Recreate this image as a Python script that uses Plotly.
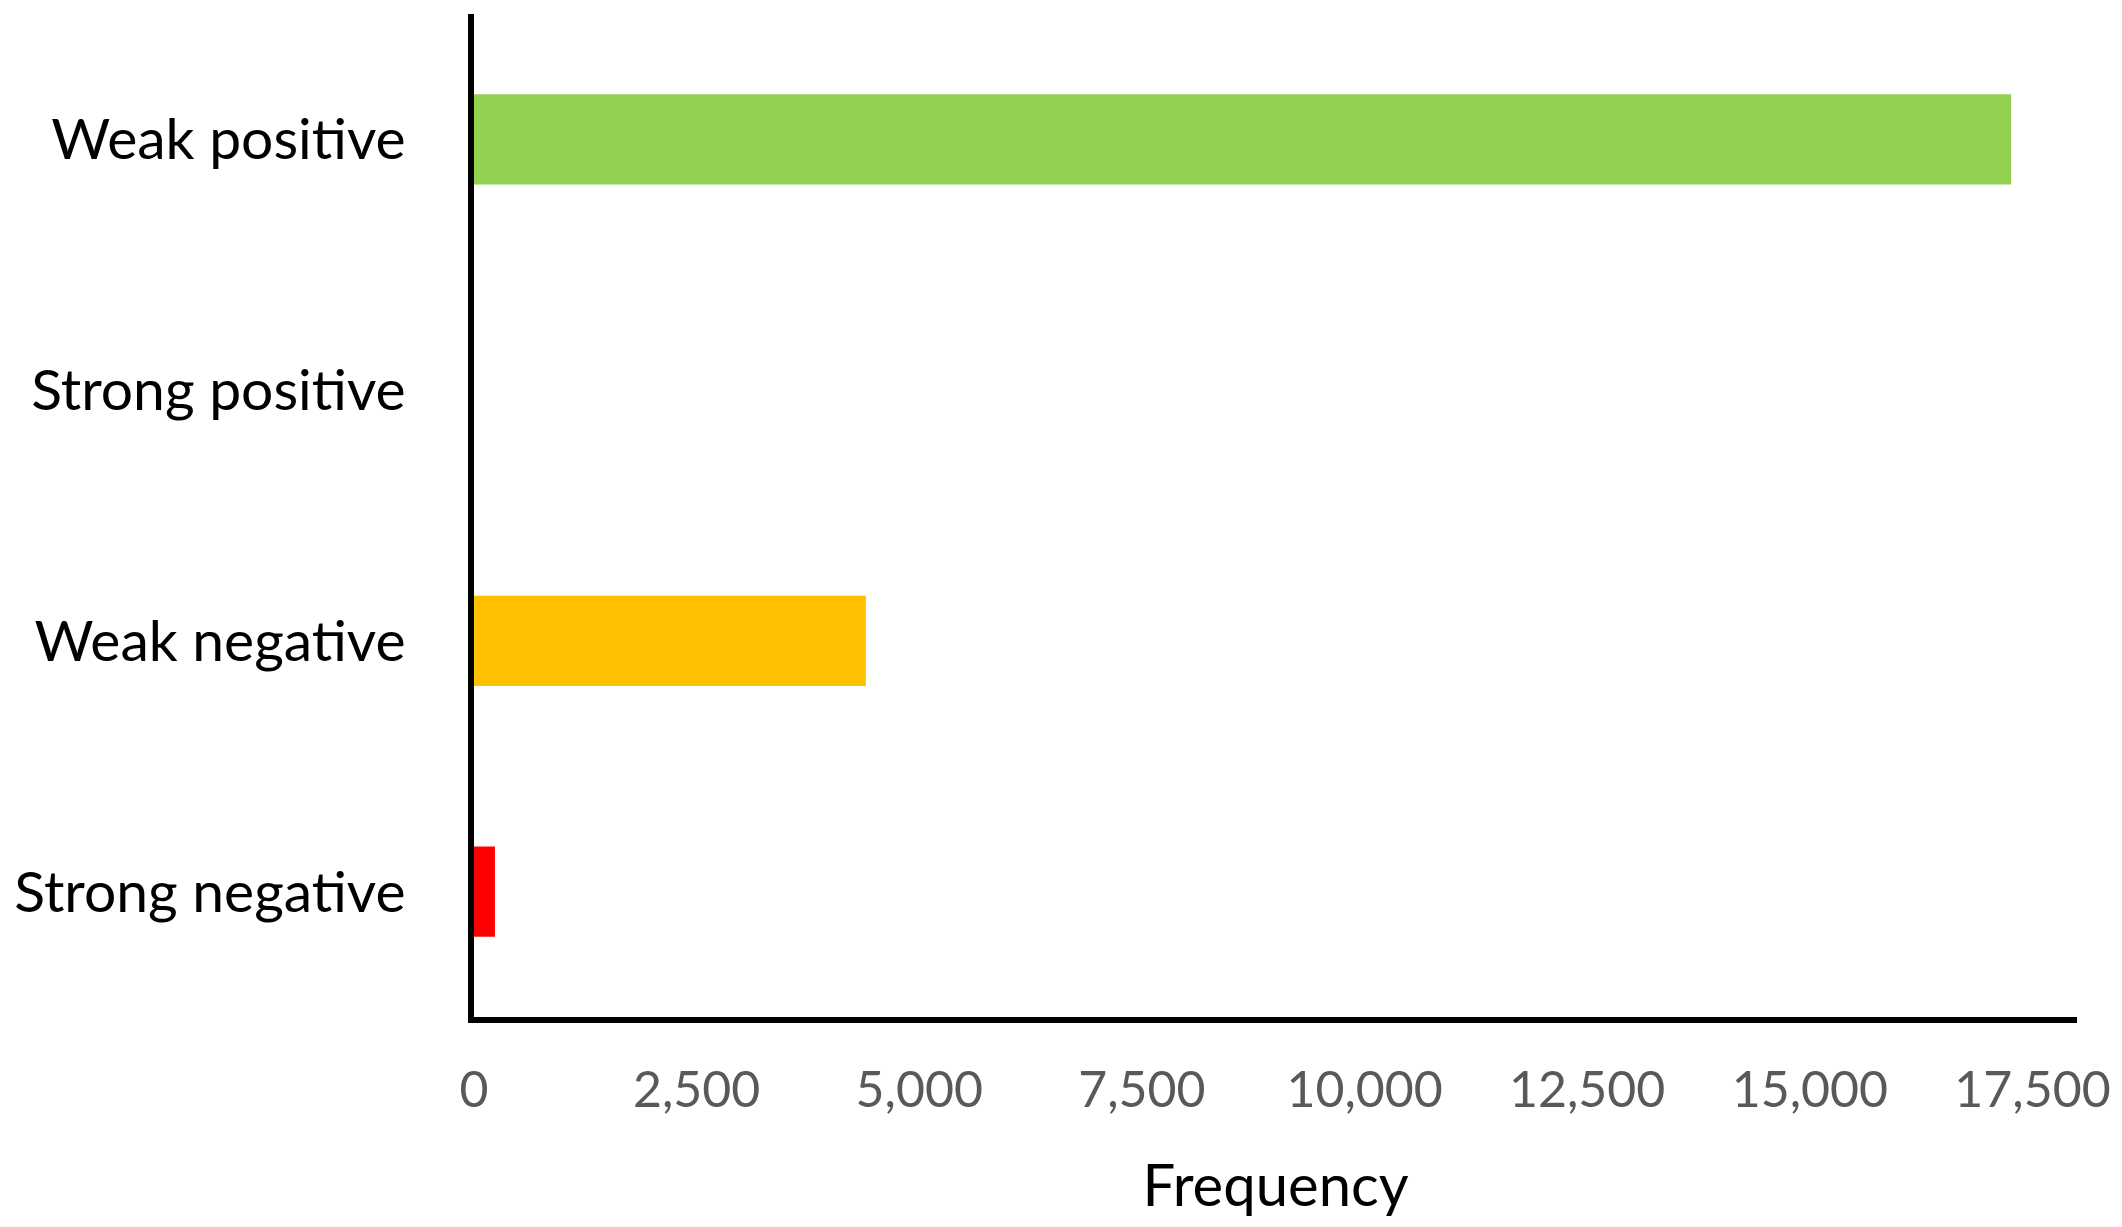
import plotly.graph_objects as go


# ==========================
# DATA
# ==========================

categories = ["Strong negative", "Weak negative", "Strong positive", "Weak positive"]
frequency = [235, 4400, 0, 17260]
bar_colors = ["#FF0000", "#FFC000", "#92D050", "#92D050"]

x_ticks = [0, 2500, 5000, 7500, 10000, 12500, 15000, 17500]
x_tick_labels = ["0", "2,500", "5,000", "7,500", "10,000", "12,500", "15,000", "17,500"]


# ==========================
# CHART
# ==========================

fig = go.Figure()

fig.add_trace(
    go.Bar(
        x=frequency,
        y=categories,
        orientation="h",
        marker=dict(color=bar_colors, line=dict(width=0)),
        showlegend=False
    )
)

fig.update_layout(
    width=2122,
    height=1227,
    margin=dict(l=461, r=53, t=6, b=218),
    paper_bgcolor="white",
    plot_bgcolor="white",
    bargap=0.64,
    font=dict(family="Lato", color="black"),
    xaxis=dict(
        range=[0, 18000],
        tickvals=x_ticks,
        ticktext=x_tick_labels,
        tickfont=dict(size=50, color="#595959"),
        ticks="",
        ticklabelstandoff=24,
        showgrid=False,
        zeroline=False,
        showline=True,
        linecolor="black",
        linewidth=6,
        title=dict(text="Frequency", font=dict(size=58, color="black"), standoff=50)
    ),
    yaxis=dict(
        categoryorder="array",
        categoryarray=categories,
        range=[-0.5, 3.5],
        tickfont=dict(size=57, color="black"),
        ticks="",
        ticklabelstandoff=51,
        showgrid=False,
        zeroline=False,
        showline=True,
        linecolor="black",
        linewidth=6
    )
)

fig.write_html("out.html")
